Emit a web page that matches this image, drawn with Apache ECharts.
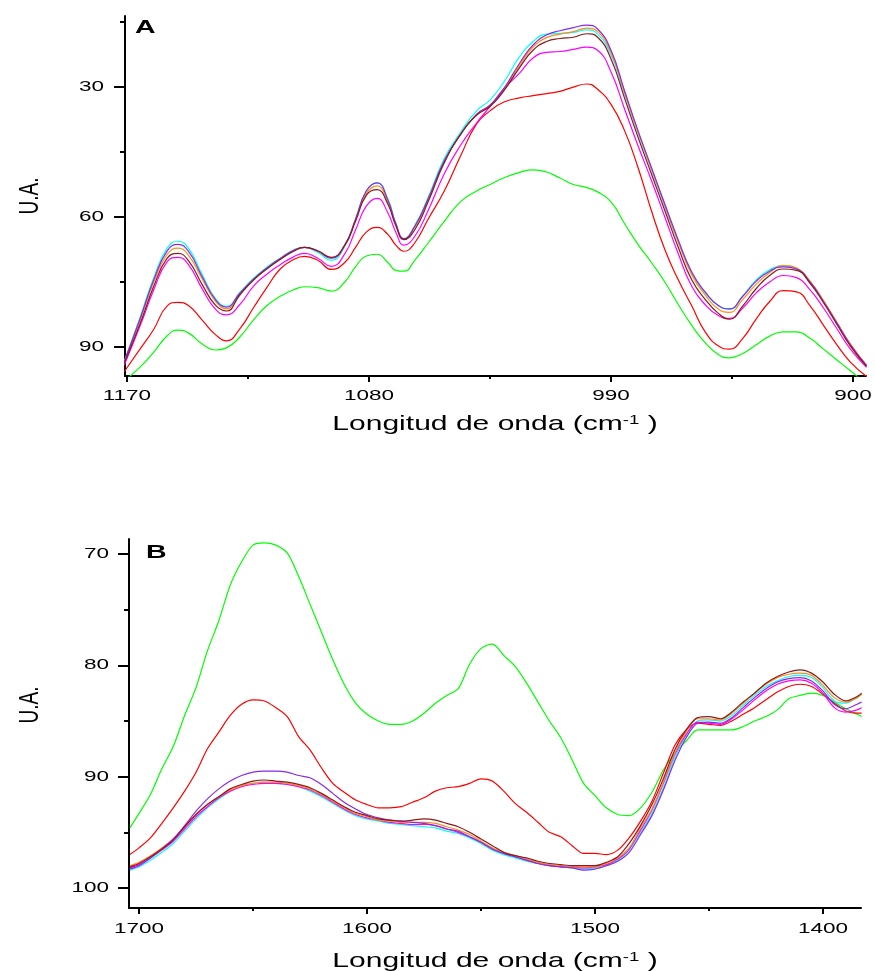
<!DOCTYPE html>
<html>
<head>
<meta charset="utf-8">
<script src="https://cdn.jsdelivr.net/npm/echarts@6/dist/echarts.min.js"></script>
<style>
  html, body { margin: 0; padding: 0; background: #ffffff; }
  #chart { width: 875px; height: 971px; }
</style>
</head>
<body>
<div id="chart"></div>
<script>
// ---- Panel A: 1170-900 cm-1 region ----
const wavenumbersA = [1171, 1165, 1160, 1155, 1151, 1147, 1142, 1137, 1133, 1128,
  1123, 1118, 1113, 1108, 1104, 1099, 1094, 1089, 1085, 1081,
  1077, 1073, 1070, 1067, 1063, 1058, 1052, 1046, 1040, 1035,
  1030, 1024, 1019, 1014, 1009, 1004, 999, 995, 990, 985,
  980, 975, 970, 965, 960, 955, 950, 946, 941, 936,
  931, 926, 921, 916, 911, 906, 901, 895];

const cyanA = [93.3, 83, 74, 67.2, 65.6, 67.3, 73.3, 78.9, 80.6, 77.4,
  74.2, 71.6, 69.5, 67.6, 67, 68.2, 70, 66.8, 60.5, 54,
  52.1, 55.8, 61.5, 65, 62, 55.5, 46.5, 40.5, 35.5, 33,
  29, 23, 19.5, 17.8, 17.6, 17.4, 16.8, 17.8, 22.5, 31.5,
  40.5, 49, 57.5, 65.8, 73, 77.5, 80.5, 81.3, 78.2, 74.5,
  72.2, 71.3, 72, 75, 79.5, 84.5, 89.5, 94.2];

const purpleA = [93.4, 83.3, 74.5, 67.8, 66.3, 68, 73.8, 79.1, 80.8, 77.6,
  74.4, 71.8, 69.6, 67.7, 67, 67.9, 69.5, 66.5, 60.5, 54,
  52.1, 56, 61.5, 65, 62.2, 55.8, 47, 41, 36.3, 34.2,
  30.5, 24.5, 20.3, 18, 17, 16.3, 15.7, 16.6, 21.5, 30.8,
  40, 48.5, 57, 65.3, 72.7, 77.3, 80.5, 81.2, 78.3, 74.8,
  72.5, 71.5, 72, 75, 79.5, 84.5, 89.5, 94.3];

const orangeA = [93.5, 83.7, 75, 68.6, 67.2, 68.9, 74.3, 79.5, 81.2, 77.8,
  74.5, 71.9, 69.7, 67.8, 67, 67.9, 69.5, 66.6, 60.8, 54.6,
  52.8, 56.5, 61.8, 65.1, 62.4, 56, 47.2, 41, 36.3, 34.2,
  30.8, 25, 20.8, 18.6, 17.8, 17.2, 16.4, 17.2, 22, 31.2,
  40.3, 48.8, 57.3, 65.8, 73.3, 78, 81.3, 82, 79, 75.5,
  72.8, 71.2, 71.8, 74.8, 79.3, 84.3, 89.3, 94.2];

const brownA = [93.8, 84.5, 76, 69.5, 68.4, 70.2, 75.6, 80.4, 81.7, 78,
  74.6, 72, 69.8, 67.9, 67, 67.8, 69.3, 66.5, 61, 55,
  53.7, 57, 62, 65.2, 63, 56.5, 47.5, 41, 36.5, 34.5,
  31, 25.5, 21.5, 19.5, 18.8, 18.5, 17.7, 18.5, 23.5, 32.5,
  41.5, 50, 58.5, 67, 74.5, 79, 82.3, 83.6, 80.5, 76.5,
  73.5, 72, 72.3, 75.3, 79.8, 84.8, 89.8, 94.5];

const magentaA = [94.2, 85, 76.8, 70.3, 69.3, 71.1, 76.6, 81.3, 82.6, 80.2,
  76, 73.2, 71, 69.2, 68.4, 69.5, 71.4, 68.5, 63, 57.5,
  55.7, 59, 63.5, 66.5, 64.5, 58.5, 50, 43.5, 38.3, 34.5,
  30.5, 26.8, 23.3, 22, 21.8, 21.3, 20.8, 21.5, 26.5, 35,
  43.5, 51.5, 60, 68.5, 76, 80.2, 82.8, 83.4, 81, 77.5,
  75, 73.5, 74, 76.8, 81, 85.8, 90.5, 94.7];

const redA = [95.7, 90.4, 85.9, 80.5, 79.7, 80.5, 83.8, 87.2, 88.6, 85.8,
  81, 76.3, 72, 69.8, 69.1, 70, 72.1, 70.5, 67, 63.5,
  62.4, 64, 66.5, 67.9, 66, 60.5, 54, 46, 38.5, 35.5,
  33.5, 32.5, 32, 31.5, 31, 30, 29.3, 30.5, 34, 40,
  48.5, 58.5, 67.5, 74.5, 80.5, 86.5, 89.8, 90.5, 88, 83.5,
  79.5, 77, 77.3, 80.5, 85, 89.5, 93.5, 96.8];

const greenA = [97.8, 94.6, 91.2, 87.4, 86.1, 86.8, 89.3, 90.7, 90.2, 87.7,
  83.8, 80.5, 78.3, 76.8, 76.1, 76.3, 77.1, 75, 71.5, 69,
  68.6, 70.5, 72.3, 72.5, 70, 66, 61, 56.5, 54, 52.5,
  51, 49.7, 49.1, 49.6, 51, 52.5, 53.2, 54.2, 56.5, 61.5,
  66.3, 70.5, 75, 80.2, 85, 89, 91.8, 92.5, 91.5, 89.5,
  87.5, 86.5, 86.5, 88, 90.5, 93, 95.5, 98.5];

// ---- Panel B: 1700-1400 cm-1 region ----
const wavenumbersB = [1704, 1700, 1695, 1690, 1685, 1680, 1675, 1670, 1665, 1660,
  1655, 1650, 1645, 1640, 1635, 1630, 1625, 1620, 1615, 1610,
  1605, 1600, 1595, 1590, 1585, 1580, 1575, 1570, 1565, 1560,
  1555, 1550, 1545, 1540, 1535, 1530, 1525, 1520, 1515, 1510,
  1505, 1500, 1495, 1490, 1485, 1480, 1475, 1470, 1465, 1460,
  1455, 1450, 1445, 1440, 1435, 1430, 1425, 1420, 1415, 1410,
  1405, 1400, 1395, 1390, 1385, 1383];

const greenB = [94.6, 93.3, 91.6, 89.3, 87.3, 84.5, 82, 78.7, 76, 72.8,
  70.7, 69.2, 69.0, 69.2, 69.9, 72, 74.5, 77, 79.5, 81.7,
  83.4, 84.4, 85, 85.3, 85.3, 85, 84.3, 83.4, 82.7, 82.1,
  79.9, 78.5, 78.1, 79.1, 80.1, 81.6, 83.3, 85, 86.5, 88.5,
  90.6, 91.7, 92.8, 93.4, 93.5, 92.8, 91.4, 89.4, 87.9, 86.8,
  85.8, 85.8, 85.8, 85.8, 85.5, 85, 84.6, 84, 83, 82.7,
  82.5, 82.7, 83.3, 83.9, 84.4, 84.6];

const redB = [97, 96.4, 95.5, 94.2, 92.8, 91.3, 89.6, 87.5, 86, 84.5,
  83.5, 83.1, 83.2, 83.8, 84.6, 86.4, 87.6, 89.2, 90.6, 91.4,
  92.1, 92.5, 92.8, 92.8, 92.7, 92.3, 91.9, 91.3, 91, 90.9,
  90.6, 90.2, 90.4, 91.3, 92.4, 93.2, 94.1, 95, 95.4, 96.2,
  96.9, 96.9, 97, 96.6, 95.5, 94, 92.2, 89.7, 87.2, 85.8,
  85.2, 85.3, 85.4, 85, 84.4, 83.8, 83.1, 82.4, 81.9, 81.7,
  81.9, 82.6, 83.4, 84.1, 84.3, 84.3];

const brownB = [98.1, 97.8, 97.2, 96.5, 95.7, 94.5, 93.4, 92.5, 91.8, 91.1,
  90.7, 90.4, 90.3, 90.4, 90.5, 90.7, 91, 91.5, 92.1, 92.7,
  93.2, 93.5, 93.8, 93.9, 94, 93.9, 93.8, 93.9, 94.2, 94.5,
  95, 95.6, 96.2, 96.8, 97.1, 97.3, 97.6, 97.8, 97.9, 98,
  98, 98, 97.7, 97.2, 96, 94.4, 92.5, 90.2, 87.6, 85.8,
  84.7, 84.6, 84.8, 84.2, 83.3, 82.5, 81.6, 81, 80.6, 80.4,
  80.7, 81.5, 82.6, 83.2, 82.8, 82.5];

const cyanB = [98.4, 98.1, 97.5, 96.8, 96, 94.9, 93.8, 92.8, 92, 91.3,
  90.8, 90.6, 90.5, 90.6, 90.7, 90.9, 91.3, 91.8, 92.4, 93,
  93.5, 93.8, 94, 94.2, 94.3, 94.4, 94.5, 94.6, 94.9, 95.1,
  95.5, 96, 96.6, 97, 97.3, 97.6, 97.8, 98, 98.1, 98.2,
  98.3, 98.2, 98, 97.5, 96.6, 95, 93.3, 91, 88.3, 86.3,
  85, 84.9, 85, 84.5, 83.6, 82.7, 81.9, 81.4, 81, 80.9,
  81.1, 82, 83.2, 83.4, 82.9, 82.6];

const purpleB = [98.3, 98, 97.3, 96.5, 95.6, 94.4, 93.1, 92, 91.1, 90.4,
  89.9, 89.6, 89.5, 89.5, 89.6, 89.9, 90.1, 90.7, 91.5, 92.3,
  92.9, 93.4, 93.7, 93.9, 94, 94.1, 94.2, 94.4, 94.7, 94.9,
  95.4, 95.9, 96.5, 96.9, 97.2, 97.5, 97.8, 98, 98.1, 98.2,
  98.4, 98.3, 98, 97.6, 96.8, 95.2, 93.5, 91.2, 88.6, 86.5,
  85.2, 85.1, 85.2, 84.7, 83.8, 82.9, 82.1, 81.5, 81.2, 81.1,
  81.4, 82.3, 83.5, 83.9, 83.5, 83.3];

const orangeB = [98, 97.7, 97.1, 96.4, 95.6, 94.5, 93.4, 92.5, 91.8, 91.2,
  90.8, 90.6, 90.5, 90.5, 90.6, 90.8, 91.1, 91.6, 92.2, 92.8,
  93.3, 93.6, 93.9, 94, 94.1, 94.1, 94.1, 94.2, 94.5, 94.8,
  95.2, 95.8, 96.4, 96.8, 97.1, 97.4, 97.7, 97.9, 98, 98.1,
  98.1, 98.1, 97.8, 97.3, 96.4, 94.6, 92.9, 90.5, 87.9, 86,
  84.8, 84.8, 84.9, 84.3, 83.4, 82.5, 81.7, 81.1, 80.8, 80.7,
  80.9, 81.8, 82.9, 83.3, 82.9, 82.6];

const magentaB = [98.2, 97.9, 97.3, 96.6, 95.8, 94.7, 93.6, 92.7, 91.9, 91.3,
  90.9, 90.7, 90.6, 90.6, 90.7, 90.9, 91.2, 91.7, 92.3, 92.9,
  93.4, 93.7, 93.9, 94.1, 94.2, 94.3, 94.3, 94.4, 94.7, 95,
  95.4, 95.9, 96.5, 96.9, 97.2, 97.5, 97.8, 98, 98.1, 98.1,
  98.2, 98.1, 97.9, 97.4, 96.5, 94.8, 93, 90.6, 88, 86.2,
  85.1, 85.2, 85.3, 84.8, 84, 83.1, 82.3, 81.7, 81.4, 81.3,
  81.6, 82.5, 83.8, 84.2, 84, 83.8];

// ---- Axis ticks and labels ----
const xMajorA = [1170, 1080, 990, 900];
const xMinorA = [1125, 1035, 945];
const yMajorA = [30, 60, 90];
const yMinorA = [15, 45, 75];
const xMajorB = [1700, 1600, 1500, 1400];
const xMinorB = [1650, 1550, 1450];
const yMajorB = [70, 80, 90, 100];
const yMinorB = [75, 85, 95];

const xTitle = 'Longitud de onda (cm{sup|-1} )';
const yTitle = 'U.A.';

const FONT = '"Liberation Sans", Arial, Helvetica, sans-serif';
const WIDE = 1.5;          // horizontal stretch applied to all lettering
const BLACK = '#000000';

const colours = {
  cyan: '#00ffff', purple: '#8a2be2', orange: '#ff8c1a', brown: '#8b1a1a',
  magenta: '#ff00ff', red: '#ff0000', green: '#00ff00'
};

const chart = echarts.init(document.getElementById('chart'), null, { renderer: 'canvas' });

function valueAxis(gridIndex, position, min, max, ticks, tickLen, showLine) {
  return {
    type: 'value', gridIndex, position, min, max, inverse: true,
    axisLine: { show: showLine, onZero: false, lineStyle: { color: BLACK, width: 2 } },
    axisTick: { show: true, customValues: ticks, length: tickLen, lineStyle: { color: BLACK, width: 2 } },
    axisLabel: { show: false },
    splitLine: { show: false }
  };
}

function spectrum(xs, ys, colour, axisIndex, smooth) {
  return {
    type: 'line', xAxisIndex: axisIndex, yAxisIndex: axisIndex,
    data: xs.map((x, i) => [x, ys[i]]),
    symbol: 'none', showSymbol: false, smooth, clip: true, silent: true,
    lineStyle: { color: colour, width: 1.2 }
  };
}

const A = { xMin: 895.2, xMax: 1170.7, yMin: 13.6, yMax: 96.7 };
const B = { xMin: 1383.3, xMax: 1704.4, yMin: 68.65, yMax: 101.8 };

chart.setOption({
  animation: false,
  backgroundColor: '#ffffff',
  grid: [
    { left: 125, top: 16, width: 741, height: 360 },
    { left: 129, top: 539, width: 732, height: 369 }
  ],
  xAxis: [
    valueAxis(0, 'bottom', A.xMin, A.xMax, xMajorA, 6, true),
    valueAxis(0, 'bottom', A.xMin, A.xMax, xMinorA, 3, false),
    valueAxis(1, 'bottom', B.xMin, B.xMax, xMajorB, 6, true),
    valueAxis(1, 'bottom', B.xMin, B.xMax, xMinorB, 3, false)
  ],
  yAxis: [
    valueAxis(0, 'left', A.yMin, A.yMax, yMajorA, 11, true),
    valueAxis(0, 'left', A.yMin, A.yMax, yMinorA, 5, false),
    valueAxis(1, 'left', B.yMin, B.yMax, yMajorB, 11, true),
    valueAxis(1, 'left', B.yMin, B.yMax, yMinorB, 5, false)
  ],
  series: [
    spectrum(wavenumbersA, greenA, colours.green, 0, 0.5),
    spectrum(wavenumbersA, redA, colours.red, 0, 0.5),
    spectrum(wavenumbersA, magentaA, colours.magenta, 0, 0.5),
    spectrum(wavenumbersA, cyanA, colours.cyan, 0, 0.5),
    spectrum(wavenumbersA, orangeA, colours.orange, 0, 0.5),
    spectrum(wavenumbersA, purpleA, colours.purple, 0, 0.5),
    spectrum(wavenumbersA, brownA, colours.brown, 0, 0.5),
    spectrum(wavenumbersB, greenB, colours.green, 2, 0.3),
    spectrum(wavenumbersB, redB, colours.red, 2, 0.3),
    spectrum(wavenumbersB, cyanB, colours.cyan, 2, 0.3),
    spectrum(wavenumbersB, magentaB, colours.magenta, 2, 0.3),
    spectrum(wavenumbersB, orangeB, colours.orange, 2, 0.3),
    spectrum(wavenumbersB, purpleB, colours.purple, 2, 0.3),
    spectrum(wavenumbersB, brownB, colours.brown, 2, 0.3)
  ]
});

// Lettering: tick labels are placed through the axes' own scales.
function text(x, y, str, font, align, vAlign) {
  return {
    type: 'text', x, y, scaleX: WIDE, silent: true,
    style: { text: str, font: font, fill: BLACK, align, verticalAlign: vAlign }
  };
}

function tickLabels(axisIndex, range, xVals, yVals, xGap, yGap) {
  const out = [];
  const bottom = chart.convertToPixel({ yAxisIndex: axisIndex }, range.yMax);
  const left = chart.convertToPixel({ xAxisIndex: axisIndex }, range.xMax);
  xVals.forEach(v => {
    out.push(text(chart.convertToPixel({ xAxisIndex: axisIndex }, v), bottom + yGap, String(v), '15px ' + FONT, 'center', 'top'));
  });
  yVals.forEach(v => {
    out.push(text(left - xGap, chart.convertToPixel({ yAxisIndex: axisIndex }, v), String(v), '15px ' + FONT, 'right', 'middle'));
  });
  return out;
}

function axisTitle(x, y) {
  return {
    type: 'text', x, y, scaleX: 1.43, silent: true,
    style: {
      text: xTitle, font: '21px ' + FONT, fill: BLACK, align: 'center', verticalAlign: 'middle',
      rich: { sup: { font: '13px ' + FONT, fill: BLACK, verticalAlign: 'top', lineHeight: 13, padding: [0, 0, 6, 0] } }
    }
  };
}

function sideTitle(x, y) {
  return {
    type: 'text', x, y, rotation: Math.PI / 2, scaleY: 1.47, silent: true,
    style: { text: yTitle, font: '19px ' + FONT, fill: BLACK, align: 'center', verticalAlign: 'middle' }
  };
}

const lettering = []
  .concat(tickLabels(0, A, xMajorA, yMajorA, 21, 12))
  .concat(tickLabels(2, B, xMajorB, yMajorB, 20, 13))
  .concat([
    text(135, 28, 'A', 'bold 19px ' + FONT, 'left', 'middle'),
    text(146, 553, 'B', 'bold 19px ' + FONT, 'left', 'middle'),
    axisTitle(495, 424),
    axisTitle(495, 961),
    sideTitle(30, 196),
    sideTitle(30, 705)
  ]);

chart.setOption({ graphic: lettering });
</script>
</body>
</html>
